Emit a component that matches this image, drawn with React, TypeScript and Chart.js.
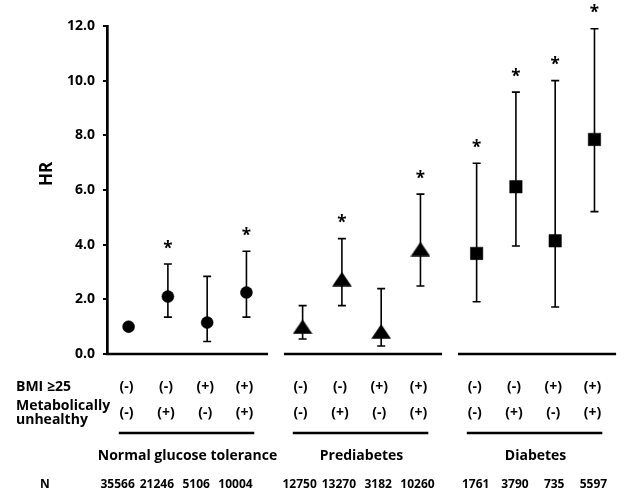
import React, { useEffect, useRef } from "react";
import { Chart, registerables } from "chart.js";
Chart.register(...registerables);

const groupNames = ["Normal glucose tolerance", "Prediabetes", "Diabetes"];
const bmiRow = ["(-)", "(-)", "(+)", "(+)"];
const metabRow = ["(-)", "(+)", "(-)", "(+)"];

const ngtHR = [1.0, 2.1, 1.15, 2.25];
const ngtLower = [null, 1.35, 0.46, 1.35];
const ngtUpper = [null, 3.29, 2.84, 3.76];
const ngtSig = [false, true, false, true];
const ngtN = ["35566", "21246", "5106", "10004"];

const preHR = [1.0, 2.74, 0.83, 3.84];
const preLower = [0.55, 1.77, 0.29, 2.49];
const preUpper = [1.77, 4.22, 2.39, 5.85];
const preSig = [false, true, false, true];
const preN = ["12750", "13270", "3182", "10260"];

const diabHR = [3.68, 6.12, 4.14, 7.85];
const diabLower = [1.91, 3.95, 1.72, 5.21];
const diabUpper = [6.98, 9.58, 10.0, 11.9];
const diabSig = [true, true, true, true];
const diabN = ["1761", "3790", "735", "5597"];

const groups = [
  { hr: ngtHR, lower: ngtLower, upper: ngtUpper, sig: ngtSig, n: ngtN },
  { hr: preHR, lower: preLower, upper: preUpper, sig: preSig, n: preN },
  { hr: diabHR, lower: diabLower, upper: diabUpper, sig: diabSig, n: diabN },
];

const GROUP_STEP = 4.43;
const pos = (g: number, i: number) => g * GROUP_STEP + i;
const N_SHIFT = [-11, -3, -1];
const FONT = "'Open Sans', sans-serif";

function makeTriangle() {
  const c = document.createElement("canvas");
  c.width = 20;
  c.height = 15;
  const ctx = c.getContext("2d")!;
  ctx.fillStyle = "#000";
  ctx.beginPath();
  ctx.moveTo(10, 0.3);
  ctx.lineTo(19.8, 14.7);
  ctx.lineTo(0.2, 14.7);
  ctx.closePath();
  ctx.fill();
  return c;
}

export default function App() {
  const ref = useRef<HTMLCanvasElement>(null);
  useEffect(() => {
    if (!ref.current) return;
    const tri = makeTriangle();

    const deco = {
      id: "deco",
      beforeDatasetsDraw(chart: any) {
        const ctx = chart.ctx;
        const xs = chart.scales.x;
        const ys = chart.scales.y;
        ctx.save();
        ctx.strokeStyle = "#000";
        ctx.fillStyle = "#000";
        ctx.lineWidth = 1.6;
        groups.forEach((gr, g) => {
          gr.hr.forEach((_, i) => {
            const lo = gr.lower[i];
            const hi = gr.upper[i];
            const x = xs.getPixelForValue(pos(g, i));
            if (lo != null && hi != null) {
              const y1 = ys.getPixelForValue(lo);
              const y2 = ys.getPixelForValue(hi);
              ctx.beginPath();
              ctx.moveTo(x, y1);
              ctx.lineTo(x, y2);
              ctx.moveTo(x - 4, y1);
              ctx.lineTo(x + 4, y1);
              ctx.moveTo(x - 4, y2);
              ctx.lineTo(x + 4, y2);
              ctx.stroke();
            }
            if (gr.sig[i]) {
              const top = ys.getPixelForValue(hi != null ? hi : gr.hr[i]);
              ctx.font = `bold 17px ${FONT}`;
              ctx.textAlign = "center";
              ctx.textBaseline = "alphabetic";
              const m = ctx.measureText("*");
              const cy = top - 20;
              ctx.fillText("*", x, cy + (m.actualBoundingBoxAscent - m.actualBoundingBoxDescent) / 2);
            }
          });
        });
        ctx.restore();
      },
      afterDraw(chart: any) {
        const ctx = chart.ctx;
        const xs = chart.scales.x;
        const area = chart.chartArea;
        const b = area.bottom;
        ctx.save();
        ctx.strokeStyle = "#000";
        ctx.fillStyle = "#000";
        // broken x axis
        ctx.lineWidth = 2.7;
        groups.forEach((_, g) => {
          const x1 = g === 0 ? area.left - 1.3 : xs.getPixelForValue(pos(g, 0) - 0.475);
          const x2 = Math.min(xs.getPixelForValue(pos(g, 3) + 0.55), chart.width);
          ctx.beginPath();
          ctx.moveTo(x1, b);
          ctx.lineTo(x2, b);
          ctx.stroke();
        });
        // group underlines
        groups.forEach((_, g) => {
          const x1 = xs.getPixelForValue(pos(g, 0) - 0.25);
          const x2 = xs.getPixelForValue(pos(g, 3) + 0.2);
          ctx.beginPath();
          ctx.moveTo(x1, b + 79);
          ctx.lineTo(x2, b + 79);
          ctx.stroke();
        });
        ctx.textBaseline = "middle";
        ctx.font = `bold 14px ${FONT}`;
        ctx.textAlign = "left";
        ctx.fillText("BMI ≥25", 16, b + 33);
        ctx.fillText("Metabolically", 16, b + 52);
        ctx.fillText("unhealthy", 16, b + 66);
        ctx.textAlign = "center";
        groups.forEach((gr, g) => {
          gr.hr.forEach((_, i) => {
            const x = xs.getPixelForValue(pos(g, i)) - 2;
            ctx.font = `bold 14px ${FONT}`;
            ctx.fillText(bmiRow[i], x, b + 33);
            ctx.fillText(metabRow[i], x, b + 59);
            ctx.font = `bold 12px ${FONT}`;
            ctx.fillText(gr.n[i], xs.getPixelForValue(pos(g, i)) + N_SHIFT[g], b + 131);
          });
          ctx.font = `bold 14px ${FONT}`;
          const cx = (xs.getPixelForValue(pos(g, 0)) + xs.getPixelForValue(pos(g, 3))) / 2;
          ctx.fillText(groupNames[g], cx, b + 102);
        });
        ctx.font = `bold 12px ${FONT}`;
        ctx.fillText("N", 45, b + 131);
        // HR title
        ctx.translate(47, 174);
        ctx.rotate(-Math.PI / 2);
        ctx.font = `bold 17px ${FONT}`;
        ctx.fillText("HR", 0, 0);
        ctx.restore();
      },
    };

    const shapes: any[] = ["circle", tri, "rect"];
    const radii = [6, 8, 8.8];
    const chart = new Chart(ref.current, {
      type: "scatter",
      data: {
        datasets: groups.map((gr, g) => ({
          label: groupNames[g],
          data: gr.hr.map((v, i) => ({ x: pos(g, i), y: v })),
          pointStyle: shapes[g],
          pointRadius: radii[g],
          pointBackgroundColor: "#000",
          pointBorderColor: "#000",
          pointBorderWidth: 0.5,
        })),
      },
      options: {
        animation: false,
        responsive: false,
        devicePixelRatio: 1,
        layout: { padding: { top: 26, bottom: 138, left: 0, right: 0 } },
        plugins: { legend: { display: false }, tooltip: { enabled: false } },
        scales: {
          x: { type: "linear", min: -0.55, max: 12.375, display: false },
          y: {
            min: 0,
            max: 12,
            afterFit: (s: any) => {
              s.width = 107;
            },
            ticks: {
              stepSize: 2,
              padding: 8,
              color: "#000",
              font: { family: FONT, size: 14, weight: "bold" },
              callback: (v: any) => Number(v).toFixed(1),
            },
            grid: {
              drawOnChartArea: false,
              drawTicks: true,
              tickLength: 4,
              color: "#000",
              lineWidth: 2,
            },
            border: { display: true, color: "#000", width: 2.7 },
          },
        },
      },
      plugins: [deco],
    });
    return () => chart.destroy();
  }, []);
  return (
    <div style={{ position: "absolute", left: 0, top: 0, width: 624, height: 492, background: "#fff" }}>
      <canvas ref={ref} width={624} height={492} />
    </div>
  );
}
